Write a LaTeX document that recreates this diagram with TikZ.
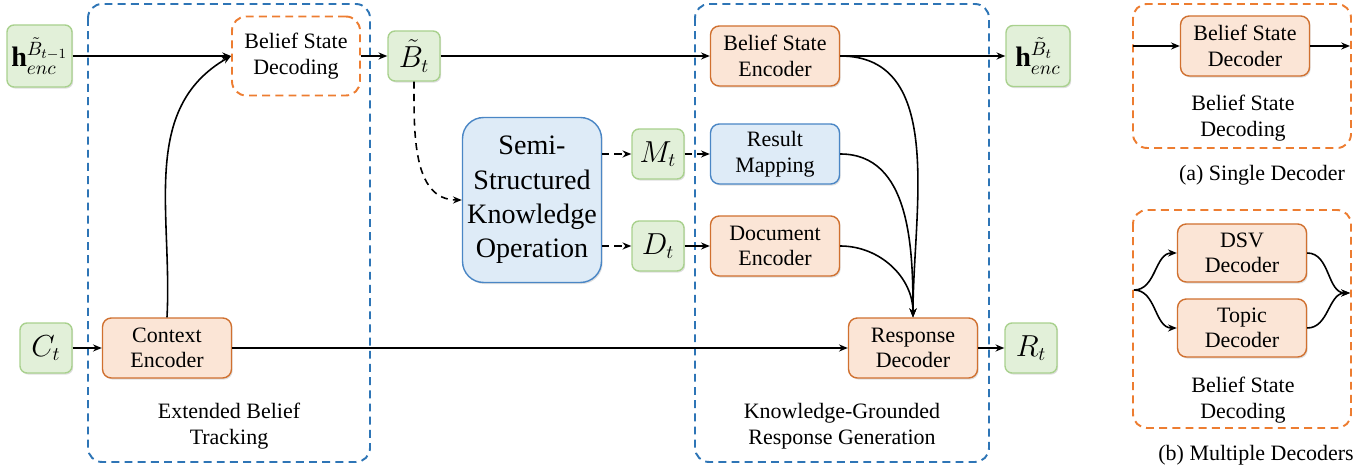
\documentclass[tikz,border=0pt]{standalone}
\usepackage{fontspec}
\setmainfont{Liberation Serif}
\usetikzlibrary{arrows.meta,shadows}

\definecolor{grnfill}{HTML}{E2F0D9}
\definecolor{grnline}{HTML}{A9D18E}
\definecolor{orgfill}{HTML}{FBE5D6}
\definecolor{orgline}{HTML}{D0702F}
\definecolor{blufill}{HTML}{DEEBF7}
\definecolor{bluline}{HTML}{4A86C5}
\definecolor{bludash}{HTML}{2E75B6}
\definecolor{orgdash}{HTML}{ED7D31}

\begin{document}
\begin{tikzpicture}[x=0.02cm,y=-0.02cm,
    txt/.style={font=\rmfamily\fontsize{12.5}{14.6}\selectfont, align=center},
    shad/.style={drop shadow={shadow xshift=0.7pt, shadow yshift=-0.9pt, opacity=0.25}},
    var/.style={draw=grnline, fill=grnfill, line width=0.8pt, rounded corners=4pt,
        minimum width=1.04cm, minimum height=1cm, inner sep=1pt,
        font=\fontsize{16}{18}\selectfont, shad},
    orbox/.style={txt, draw=orgline, fill=orgfill, line width=0.8pt, rounded corners=5pt,
        minimum width=2.58cm, minimum height=1.2cm, inner sep=1pt, shad},
    blbox/.style={orbox, draw=bluline, fill=blufill},
    grp/.style={dash pattern=on 4.5pt off 3pt, line width=1.1pt, rounded corners=8pt},
    arr/.style={-{Stealth[length=5pt,width=4pt]}, line width=0.9pt},
    darr/.style={arr, dash pattern=on 4pt off 3pt}]
  \useasboundingbox (0,0) rectangle (1369,475);

  % groups
  \draw[grp, bludash] (88,4) rectangle (370,462);
  \draw[grp, bludash] (695,4) rectangle (989,462);
  \node[txt] at (229,426) {Extended Belief\\Tracking};
  \node[txt] at (842,426) {Knowledge-Grounded\\Response Generation};

  % nodes
  \node[var, minimum width=1.3cm, minimum height=1.24cm] (hprev) at (39.5,56) {$\mathbf{h}^{\tilde{B}_{t-1}}_{enc}$};
  \node[txt, draw=orgdash, fill=white, grp, line width=1.1pt, minimum width=2.56cm, minimum height=1.58cm] (bsd) at (296,56) {Belief State\\Decoding};
  \node[var] (bt) at (414,56) {$\tilde{B}_t$};
  \node[orbox] (bse) at (775,56) {Belief State\\Encoder};
  \node[var, minimum width=1.28cm, minimum height=1.22cm] (hnext) at (1038,56) {$\mathbf{h}^{\tilde{B}_{t}}_{enc}$};
  \node[blbox, minimum width=2.78cm, minimum height=3.3cm, rounded corners=12pt, font=\rmfamily\fontsize{16}{19.5}\selectfont] (sko) at (532,200) {Semi-\\Structured\\Knowledge\\Operation};
  \node[var] (mt) at (658,154) {$M_t$};
  \node[var] (dt) at (658,246) {$D_t$};
  \node[blbox] (rm) at (775,154) {Result\\Mapping};
  \node[orbox] (de) at (775,246) {Document\\Encoder};
  \node[orbox] (rd) at (913,348) {Response\\Decoder};
  \node[var] (rt) at (1031,348) {$R_t$};
  \node[var] (ct) at (46,348) {$C_t$};
  \node[orbox] (ce) at (167,348) {Context\\Encoder};

  % connectors
  \draw[arr] (hprev) -- (bsd);
  \draw[arr] (ce.north) to[out=87, in=210] (bsd.west);
  \draw[arr] (bsd) -- (bt);
  \draw[arr] (bt) -- (bse);
  \draw[darr] (bt.south) to[out=-90, in=180] (sko.west);
  \draw[darr] (sko.east |- mt) -- (mt);
  \draw[darr] (sko.east |- dt) -- (dt);
  \draw[darr] (mt) -- (rm);
  \draw[arr] (dt) -- (de);
  \draw[arr] (bse) -- (hnext);
  \draw[arr] (bse.east) to[out=0, in=90] (rd.north);
  \draw[arr] (rm.east) to[out=0, in=90] (rd.north);
  \draw[arr] (de.east) to[out=0, in=90] (rd.north);
  \draw[arr] (ct) -- (ce);
  \draw[arr] (ce) -- (rd);
  \draw[arr] (rd) -- (rt);

  % (a) single decoder
  \draw[grp, orgdash] (1133,4) rectangle (1351,148);
  \node[orbox] (bsdec) at (1245,46) {Belief State\\Decoder};
  \coordinate (ain) at (1133,46);
  \coordinate (aout) at (1350,46);
  \draw[arr] (ain) -- (bsdec);
  \draw[arr] (bsdec) -- (aout);
  \node[txt] at (1243,118) {Belief State\\Decoding};
  \node[txt] at (1262,175) {(a) Single Decoder};

  % (b) multiple decoders
  \draw[grp, orgdash] (1133,210) rectangle (1351,428);
  \node[orbox, minimum height=1.16cm] (dsv) at (1242,253) {DSV\\Decoder};
  \node[orbox, minimum height=1.16cm] (topic) at (1242,328) {Topic\\Decoder};
  \coordinate (bin) at (1134,290);
  \coordinate (bout) at (1350,293);
  \draw[arr] (bin) to[out=0, in=180] (dsv.west);
  \draw[arr] (bin) to[out=0, in=180] (topic.west);
  \draw[arr] (dsv.east) to[out=0, in=180] (bout);
  \draw[arr] (topic.east) to[out=0, in=180] (bout);
  \node[txt] at (1243,400) {Belief State\\Decoding};
  \node[txt] at (1256,455) {(b) Multiple Decoders};
\end{tikzpicture}
\end{document}
